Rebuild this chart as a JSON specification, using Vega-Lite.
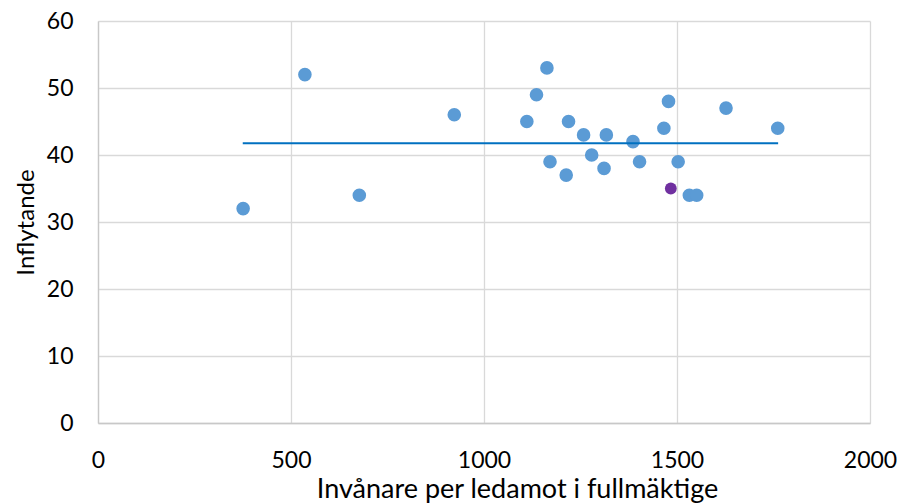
{
  "$schema": "https://vega.github.io/schema/vega-lite/v6.json",
  "autosize": "none",
  "width": 772,
  "height": 402,
  "padding": {"left": 98, "top": 21, "right": 27, "bottom": 80},
  "config": {
    "view": {"stroke": null},
    "font": "Lato",
    "axis": {
      "labelFont": "Lato",
      "titleFont": "Lato",
      "labelFontSize": 23,
      "titleFontSize": 24,
      "labelColor": "#000000",
      "titleColor": "#000000",
      "titleFontWeight": "normal",
      "gridColor": "#D9D9D9",
      "gridWidth": 1.3,
      "domainColor": "#C8C8C8",
      "domainWidth": 1.3,
      "ticks": false,
      "labelFlush": false,
      "labelOverlap": false
    }
  },
  "datasets": {
    "points": [
      {"x": 376, "y": 32},
      {"x": 536, "y": 52},
      {"x": 677, "y": 34},
      {"x": 923, "y": 46},
      {"x": 1111, "y": 45},
      {"x": 1136, "y": 49},
      {"x": 1163, "y": 53},
      {"x": 1171, "y": 39},
      {"x": 1213, "y": 37},
      {"x": 1219, "y": 45},
      {"x": 1258, "y": 43},
      {"x": 1279, "y": 40},
      {"x": 1311, "y": 38},
      {"x": 1317, "y": 43},
      {"x": 1386, "y": 42},
      {"x": 1403, "y": 39},
      {"x": 1466, "y": 44},
      {"x": 1478, "y": 48},
      {"x": 1503, "y": 39},
      {"x": 1532, "y": 34},
      {"x": 1551, "y": 34},
      {"x": 1627, "y": 47},
      {"x": 1761, "y": 44}
    ],
    "highlight": [
      {"x": 1484, "y": 35}
    ],
    "mean": [
      {"x": 375, "y": 41.75},
      {"x": 1762, "y": 41.75}
    ]
  },
  "layer": [
    {
      "data": {"name": "points"},
      "mark": {"type": "circle", "size": 185, "color": "#5B9BD5", "opacity": 1},
      "encoding": {
        "x": {
          "field": "x", "type": "quantitative",
          "scale": {"domain": [0, 2000], "nice": false},
          "axis": {"values": [0, 500, 1000, 1500, 2000], "format": "d", "title": "Invånare per ledamot i fullmäktige", "titleFontSize": 27, "labelPadding": 26, "titleX": 419, "titleY": 74, "titleAlign": "center", "titleBaseline": "alphabetic", "domain": true, "grid": true}
        },
        "y": {
          "field": "y", "type": "quantitative",
          "scale": {"domain": [0, 60], "nice": false},
          "axis": {"values": [0, 10, 20, 30, 40, 50, 60], "format": "d", "title": "Inflytande", "labelPadding": 25, "titlePadding": 8, "domain": true, "grid": true}
        }
      }
    },
    {
      "data": {"name": "mean"},
      "mark": {"type": "line", "color": "#0070C0", "strokeWidth": 2},
      "encoding": {
        "x": {"field": "x", "type": "quantitative"},
        "y": {"field": "y", "type": "quantitative"}
      }
    },
    {
      "data": {"name": "highlight"},
      "mark": {"type": "circle", "size": 140, "color": "#7030A0", "opacity": 1},
      "encoding": {
        "x": {"field": "x", "type": "quantitative"},
        "y": {"field": "y", "type": "quantitative"}
      }
    }
  ]
}
